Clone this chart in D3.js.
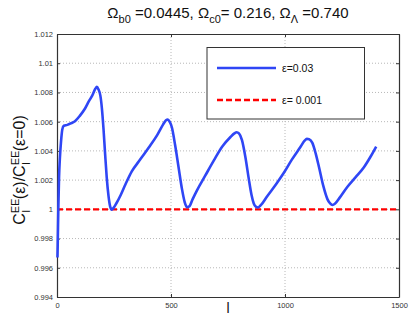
<!DOCTYPE html>
<html>
<head>
<meta charset="utf-8">
<script src="https://d3js.org/d3.v7.min.js"></script>
<style>
  body { margin: 0; background: #fff; }
  svg { display: block; font-family: "Liberation Sans", Arial, Helvetica, sans-serif; }
</style>
</head>
<body>
<div id="chart"></div>
<script>
// multipole l and ratio C_l(eps)/C_l(eps=0)
const ell = [2, 3, 6, 9, 13, 18, 23, 30, 45, 60, 80, 100, 123, 140, 155, 168, 175, 182, 190, 197,
  204, 211, 218, 226, 233, 240, 248, 260, 280, 300, 328, 360, 401, 440, 465, 478, 486, 494, 504, 518,
  533, 548, 560, 570, 580, 595, 614, 650, 688, 725, 761, 778, 788, 798, 811, 826, 841, 853, 863, 872,
  882, 895, 922, 960, 995, 1030, 1069, 1086, 1096, 1106, 1120, 1135, 1149, 1168, 1186, 1198, 1208, 1220,
  1240, 1274, 1310, 1347, 1375, 1400];
const ratio003 = [0.9967, 0.9975, 1.0002, 1.0022, 1.0036, 1.0047, 1.00545, 1.00572, 1.00578, 1.00588, 1.00605, 1.0064, 1.0069, 1.0074, 1.0078, 1.00825, 1.00838, 1.0082, 1.0078, 1.0069,
  1.0055, 1.0038, 1.0022, 1.0009, 1.0002, 0.99998, 1.0001, 1.0004, 1.0010, 1.0017, 1.0026, 1.0033, 1.0042, 1.0051, 1.0058, 1.0061, 1.00615, 1.0060, 1.0056, 1.0044,
  1.0029, 1.0014, 1.0005, 1.00015, 1.0002, 1.0007, 1.0013, 1.0023, 1.00335, 1.0043, 1.00495, 1.0052, 1.00528, 1.0052, 1.00475, 1.0036, 1.0021, 1.0010, 1.0004, 1.00018,
  1.00013, 1.0003, 1.0009, 1.0017, 1.0025, 1.0034, 1.0043, 1.0047, 1.00482, 1.0048, 1.00455, 1.0038, 1.0029, 1.0016, 1.0007, 1.0004, 1.0003, 1.0004,
  1.0008, 1.00155, 1.0022, 1.0029, 1.0036, 1.0043];
const ell001 = [0, 1500];
const ratio001 = [1, 1];

const xTicks = [0, 500, 1000, 1500];
const yTicks = [0.994, 0.996, 0.998, 1, 1.002, 1.004, 1.006, 1.008, 1.01, 1.012];
const legendLabels = ["ε=0.03", "ε= 0.001"];

const width = 410, height = 327;
const margin = { top: 34, right: 11, bottom: 30, left: 57 };
const iw = width - margin.left - margin.right;
const ih = height - margin.top - margin.bottom;

const svg = d3.select("#chart").append("svg")
  .attr("width", width)
  .attr("height", height);

const x = d3.scaleLinear().domain([0, 1500]).range([margin.left, margin.left + iw]);
const y = d3.scaleLinear().domain([0.994, 1.012]).range([margin.top + ih, margin.top]);

// dotted grid
svg.append("g").selectAll("line")
  .data(xTicks.slice(1, -1)).enter().append("line")
  .attr("x1", d => x(d)).attr("x2", d => x(d))
  .attr("y1", margin.top).attr("y2", margin.top + ih)
  .attr("stroke", "#b8b8b8").attr("stroke-dasharray", "1,2");
svg.append("g").selectAll("line")
  .data(yTicks.slice(1, -1)).enter().append("line")
  .attr("y1", d => y(d)).attr("y2", d => y(d))
  .attr("x1", margin.left).attr("x2", margin.left + iw)
  .attr("stroke", "#b8b8b8").attr("stroke-dasharray", "1,2");

// axes
svg.append("g")
  .attr("transform", `translate(0,${margin.top + ih})`)
  .call(d3.axisBottom(x).tickValues(xTicks).tickSizeInner(-3).tickSizeOuter(0).tickPadding(6).tickFormat(d3.format("d")));
svg.append("g")
  .attr("transform", `translate(${margin.left},0)`)
  .call(d3.axisLeft(y).tickValues(yTicks).tickSizeInner(-3).tickSizeOuter(0).tickPadding(4).tickFormat(d => +d.toFixed(3) + ""));
svg.append("g")
  .attr("transform", `translate(${margin.left + iw},0)`)
  .call(d3.axisRight(y).tickValues(yTicks).tickSizeInner(-3).tickSizeOuter(0).tickFormat(""));
svg.append("g")
  .attr("transform", `translate(0,${margin.top})`)
  .call(d3.axisTop(x).tickValues(xTicks).tickSizeInner(-3).tickSizeOuter(0).tickFormat(""));
svg.selectAll(".domain").attr("stroke", "#333").attr("stroke-width", 1.2);
svg.selectAll(".tick line").attr("stroke", "#333");
svg.selectAll(".tick text").attr("fill", "#333").style("font-size", "7.5px");

// curves
const line = d3.line().x(d => x(d[0])).y(d => y(d[1])).curve(d3.curveMonotoneX);
svg.append("path")
  .datum(ell001.map((l, i) => [l, ratio001[i]]))
  .attr("d", line)
  .attr("fill", "none").attr("stroke", "#ff0000").attr("stroke-width", 2.4)
  .attr("stroke-dasharray", "6,3");
svg.append("path")
  .datum(ell.map((l, i) => [l, ratio003[i]]))
  .attr("d", line)
  .attr("fill", "none").attr("stroke", "#2f46f5").attr("stroke-width", 2.6)
  .attr("stroke-linejoin", "round");

// legend
const lg = svg.append("g");
lg.append("rect")
  .attr("x", 207).attr("y", 47.5).attr("width", 157.5).attr("height", 71.5)
  .attr("fill", "#fff").attr("stroke", "#333").attr("stroke-width", 1);
const legendY = [68, 100];
lg.append("line").attr("x1", 217).attr("x2", 276).attr("y1", legendY[0]).attr("y2", legendY[0])
  .attr("stroke", "#2f46f5").attr("stroke-width", 2.6);
lg.append("line").attr("x1", 217).attr("x2", 276).attr("y1", legendY[1]).attr("y2", legendY[1])
  .attr("stroke", "#ff0000").attr("stroke-width", 2.4).attr("stroke-dasharray", "6,3");
lg.selectAll("text").data(legendLabels).enter().append("text")
  .attr("x", 282).attr("y", (d, i) => legendY[i] + 4)
  .style("font-size", "10.5px").attr("fill", "#111")
  .text(d => d);

// title
const title = svg.append("text")
  .attr("x", x(750)).attr("y", 18)
  .attr("text-anchor", "middle")
  .style("font-size", "15px").attr("fill", "#111");
title.append("tspan").text("Ω");
title.append("tspan").attr("dy", 5).style("font-size", "11px").text("b0");
title.append("tspan").attr("dy", -5).text(" =0.0445, Ω");
title.append("tspan").attr("dy", 5).style("font-size", "11px").text("c0");
title.append("tspan").attr("dy", -5).text("= 0.216, Ω");
title.append("tspan").attr("dy", 5).style("font-size", "11px").text("Λ");
title.append("tspan").attr("dy", -5).text(" =0.740");

// y label
const yl = svg.append("text")
  .attr("transform", "translate(25,170) rotate(-90)")
  .attr("text-anchor", "middle")
  .style("font-size", "16px").attr("fill", "#111");
yl.append("tspan").text("C");
yl.append("tspan").attr("dy", -6.5).style("font-size", "11px").text("EE");
yl.append("tspan").attr("dx", -14).attr("dy", 11).style("font-size", "11px").text("l");
yl.append("tspan").attr("dx", 11).attr("dy", -4.5).text("(ε)/C");
yl.append("tspan").attr("dy", -6.5).style("font-size", "11px").text("EE");
yl.append("tspan").attr("dx", -14).attr("dy", 11).style("font-size", "11px").text("l");
yl.append("tspan").attr("dx", 11).attr("dy", -4.5).text("(ε=0)");

// x label
svg.append("text")
  .attr("x", x(750)).attr("y", 313)
  .attr("text-anchor", "middle")
  .style("font-size", "14px").attr("fill", "#111")
  .text("l");
</script>
</body>
</html>
